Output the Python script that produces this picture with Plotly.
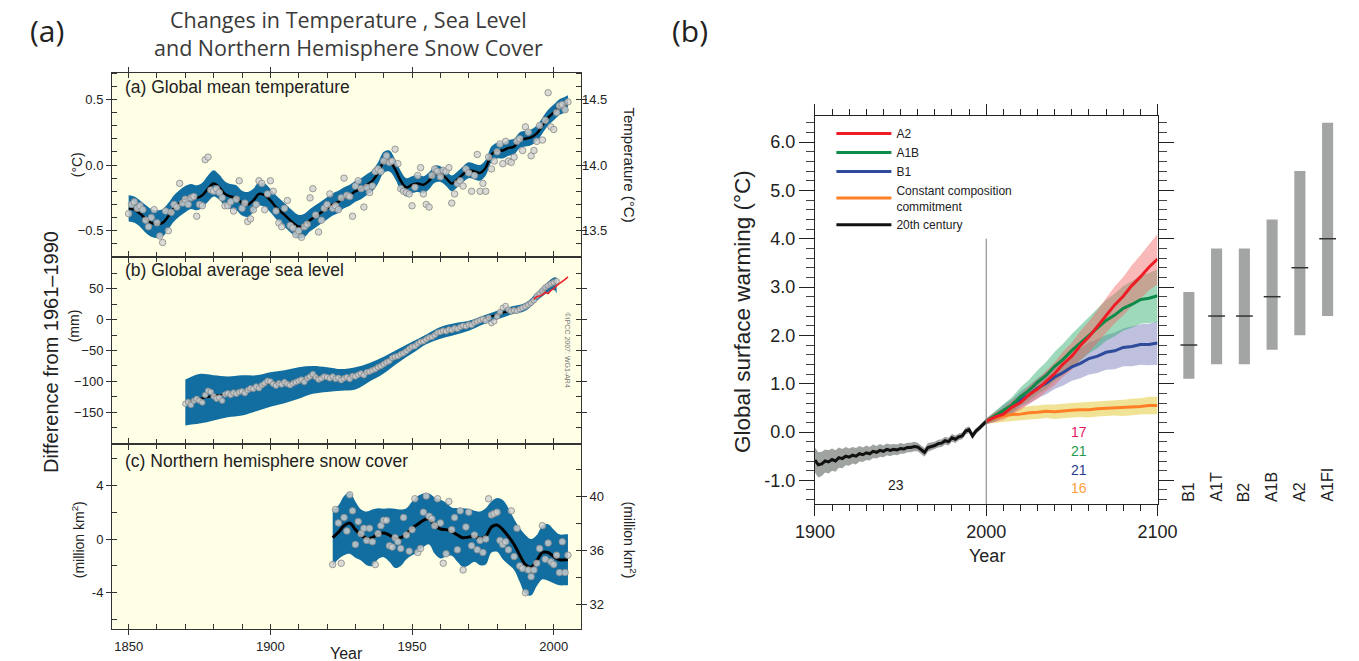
import plotly.graph_objects as go

# ---------------- data: left composite ----------------
temp_years = list(range(1850, 2006))
temp_annual = [
    -0.37, -0.30, -0.28, -0.33, -0.31, -0.34, -0.42, -0.47, -0.40, -0.34,
    -0.44, -0.54, -0.59, -0.35, -0.50, -0.36, -0.30, -0.32, -0.14, -0.29,
    -0.26, -0.30, -0.25, -0.24, -0.39, -0.30, -0.31, 0.04, 0.06, -0.19,
    -0.20, -0.18, -0.21, -0.25, -0.31, -0.31, -0.28, -0.35, -0.26, -0.12,
    -0.33, -0.29, -0.43, -0.41, -0.34, -0.30, -0.12, -0.14, -0.34, -0.22,
    -0.12, -0.20, -0.35, -0.44, -0.47, -0.33, -0.27, -0.46, -0.48, -0.53,
    -0.50, -0.55, -0.47, -0.45, -0.25, -0.18, -0.38, -0.51, -0.42, -0.33,
    -0.30, -0.22, -0.33, -0.31, -0.34, -0.25, -0.10, -0.23, -0.24, -0.39,
    -0.16, -0.12, -0.18, -0.32, -0.17, -0.21, -0.16, -0.05, -0.03, -0.05,
    0.03, 0.07, 0.02, 0.03, 0.12, 0.01, -0.18, -0.20, -0.21, -0.22,
    -0.31, -0.17, -0.08, -0.02, -0.22, -0.30, -0.32, -0.08, -0.03, -0.05,
    -0.09, -0.04, -0.05, -0.02, -0.29, -0.22, -0.14, -0.12, -0.16, -0.03,
    -0.06, -0.20, -0.08, 0.08, -0.20, -0.14, -0.20, 0.06, -0.03, 0.03,
    0.10, 0.16, 0.01, 0.18, 0.03, 0.02, 0.06, 0.18, 0.20, 0.11,
    0.29, 0.25, 0.07, 0.11, 0.18, 0.30, 0.19, 0.34, 0.55, 0.29,
    0.27, 0.40, 0.45, 0.46, 0.42, 0.48]
temp_abs_offset = 14.0  # right-hand axis: absolute temperature

temp_smooth_years = [
    1850, 1852, 1854, 1856, 1858, 1860, 1862, 1864, 1866, 1868,
    1870, 1872, 1874, 1876, 1878, 1880, 1882, 1884, 1886, 1888,
    1890, 1892, 1894, 1896, 1898, 1900, 1902, 1904, 1906, 1908,
    1910, 1912, 1914, 1916, 1918, 1920, 1922, 1924, 1926, 1928,
    1930, 1932, 1934, 1936, 1938, 1940, 1942, 1944, 1946, 1948,
    1950, 1952, 1954, 1956, 1958, 1960, 1962, 1964, 1966, 1968,
    1970, 1972, 1974, 1976, 1978, 1980, 1982, 1984, 1986, 1988,
    1990, 1992, 1994, 1996, 1998, 2000, 2002, 2004, 2005]
temp_smooth = [
    -0.33, -0.34, -0.37, -0.41, -0.44, -0.45, -0.44, -0.39, -0.33, -0.29,
    -0.26, -0.24, -0.25, -0.23, -0.18, -0.14, -0.17, -0.22, -0.24, -0.25,
    -0.29, -0.30, -0.27, -0.22, -0.23, -0.27, -0.32, -0.36, -0.40, -0.44,
    -0.47, -0.46, -0.42, -0.39, -0.36, -0.33, -0.30, -0.28, -0.25, -0.23,
    -0.20, -0.18, -0.15, -0.12, -0.06, 0.02, 0.03, -0.03, -0.12, -0.17,
    -0.15, -0.14, -0.15, -0.12, -0.07, -0.07, -0.10, -0.14, -0.11, -0.07,
    -0.04, -0.05, -0.06, -0.02, 0.08, 0.11, 0.11, 0.13, 0.14, 0.19,
    0.20, 0.21, 0.24, 0.30, 0.36, 0.40, 0.44, 0.46, 0.47]
temp_hw = [
    0.10, 0.10, 0.10, 0.105, 0.105, 0.105, 0.105, 0.10, 0.10, 0.10,
    0.10, 0.095, 0.095, 0.095, 0.10, 0.10, 0.095, 0.095, 0.095, 0.095,
    0.095, 0.095, 0.09, 0.09, 0.09, 0.09, 0.09, 0.09, 0.09, 0.09,
    0.09, 0.09, 0.085, 0.085, 0.085, 0.085, 0.085, 0.085, 0.08, 0.08,
    0.08, 0.08, 0.08, 0.08, 0.08, 0.08, 0.08, 0.075, 0.075, 0.07,
    0.065, 0.065, 0.065, 0.065, 0.065, 0.06, 0.06, 0.06, 0.06, 0.06,
    0.06, 0.06, 0.06, 0.06, 0.06, 0.06, 0.06, 0.06, 0.06, 0.06,
    0.06, 0.06, 0.06, 0.06, 0.06, 0.06, 0.06, 0.06, 0.06]

sea_years = list(range(1870, 2002))
sea_annual = [
    -136, -133, -138, -131, -128, -131, -134, -122, -115, -117,
    -124, -128, -126, -131, -121, -119, -122, -118, -120, -117,
    -116, -119, -114, -111, -112, -108, -111, -106, -103, -99,
    -100, -104, -107, -103, -105, -101, -104, -106, -103, -101,
    -99, -97, -101, -95, -92, -88, -93, -97, -95, -92,
    -93, -95, -92, -96, -94, -98, -95, -93, -96, -91,
    -92, -89, -87, -90, -85, -84, -82, -80, -77, -75,
    -72, -69, -67, -62, -60, -59, -56, -54, -51, -47,
    -44, -43, -39, -36, -35, -32, -29, -28, -25, -21,
    -20, -18, -19, -16, -17, -14, -15, -12, -10, -11,
    -8, -9, -5, -3, -1, 1, -2, 3, -6, -3,
    5, 12, 19, 22, 16, 13, 15, 14, 17, 19,
    21, 24, 27, 31, 38, 42, 47, 52, 55, 58,
    60, 62]
sea_smooth_years = [1870, 1875, 1880, 1885, 1890, 1895, 1900, 1905, 1910, 1915,
                    1920, 1925, 1930, 1935, 1940, 1945, 1950, 1955, 1960, 1965,
                    1970, 1975, 1980, 1985, 1990, 1995, 2000, 2001]
sea_smooth = [-134, -128, -123, -121, -117, -110, -102, -103, -100, -92,
              -94, -95, -90, -83, -71, -58, -44, -31, -20, -15,
              -8, 0, 8, 15, 21, 42, 60, 62]
sea_upper = [-97, -88, -90, -92, -90, -90, -85, -82, -77, -75,
             -77, -80, -77, -70, -60, -48, -36, -24, -12, -6,
             -2, 6, 14, 21, 27, 48, 68, 68]
sea_lower = [-171, -168, -163, -158, -155, -148, -141, -135, -128, -120,
             -117, -115, -113, -100, -87, -70, -55, -40, -31, -25,
             -18, -8, 0, 8, 14, 34, 48, 42]
sat_years = [1993, 1994, 1995, 1996, 1997, 1998, 1999, 2000, 2001, 2002, 2003, 2004, 2005]
sat_sea = [33, 37, 38, 40, 44, 42, 47, 50, 55, 58, 62, 65, 69]

snow_years = list(range(1922, 2006))
snow_annual = [
    -1.9, 2.2, 1.2, -1.8, 1.6, 0.6, 3.3, 2.1,
    -0.4, 1.3, 0.4, 0.8, -0.1, 0.8, -0.2, -1.9, 0.4, 1.0,
    1.4, 1.4, -0.5, -0.6, 0.1, -0.2, -0.7, 1.6, 0.3, -0.9,
    0.7, 3.0, -1.0, -0.7, 2.0, 3.2, 1.7, 1.5, 1.0, 3.0,
    1.2, -1.8, -1.1, 2.8, 0.7, 1.6, -0.8, 2.1, -2.3, 0.9,
    2.0, -0.5, 0.3, -0.8, -0.1, -1.0, 0.0, 3.0, 1.8, 1.9,
    2.0, -0.1, -0.4, -0.2, -0.8, 2.1, -1.3, 0.8, -2.0, -2.2,
    -4.0, -2.3, -2.8, -2.3, -1.8, -0.7, 1.0, -1.5, -0.3, -1.7,
    -1.9, -1.2, -2.5, -0.2, -2.5, -1.2]
snow_abs_offset = 36.85  # right-hand axis: absolute snow cover
snow_smooth_years = [1922, 1924, 1926, 1928, 1930, 1932, 1934, 1936, 1938, 1940,
                     1942, 1944, 1946, 1948, 1950, 1952, 1954, 1956, 1958, 1960,
                     1962, 1964, 1966, 1968, 1970, 1972, 1974, 1976, 1978, 1980,
                     1982, 1984, 1986, 1988, 1990, 1992, 1994, 1996, 1998, 2000,
                     2002, 2004, 2005]
snow_smooth = [0.1, 0.5, 1.0, 1.2, 0.7, 0.3, 0.05, 0.1, 0.4, 0.45,
               0.3, 0.05, 0.1, 0.4, 0.8, 1.1, 1.4, 1.5, 1.0, 0.75,
               0.7, 0.55, 0.3, 0.1, 0.15, 0.2, 0.05, 0.2, 0.9, 1.05,
               0.7, 0.2, -0.4, -1.2, -1.9, -2.1, -1.6, -1.0, -1.0, -1.3,
               -1.55, -1.55, -1.55]
snow_hw = [2.1, 2.0, 2.2, 2.3, 2.1, 1.9, 2.0, 2.1, 1.9, 1.8,
           2.0, 2.2, 2.1, 1.9, 2.0, 2.1, 2.0, 1.9, 2.1, 2.2,
           2.0, 1.8, 2.0, 2.2, 2.1, 1.9, 2.0, 2.1, 1.9, 2.0,
           2.2, 2.1, 1.9, 2.0, 2.2, 2.1, 1.9, 2.0, 2.1, 2.0,
           1.9, 1.9, 1.9]

# ---------------- data: right panel ----------------
c20_years = list(range(1900, 2001, 2))
c20 = [-0.58, -0.68, -0.66, -0.60, -0.62, -0.57, -0.60, -0.53, -0.55, -0.50,
       -0.52, -0.48, -0.50, -0.45, -0.47, -0.43, -0.45, -0.40, -0.42, -0.38,
       -0.40, -0.36, -0.38, -0.36, -0.37, -0.34, -0.35, -0.32, -0.32, -0.30,
       -0.31, -0.36, -0.42, -0.32, -0.30, -0.28, -0.24, -0.23, -0.18, -0.20,
       -0.12, -0.15, -0.10, -0.08, 0.02, 0.05, -0.08, 0.02, 0.08, 0.15,
       0.22]
c20_hw = [0.26, 0.26, 0.25, 0.24, 0.24, 0.23, 0.22, 0.21, 0.20, 0.19,
          0.18, 0.17, 0.17, 0.16, 0.15, 0.15, 0.14, 0.14, 0.13, 0.13,
          0.12, 0.12, 0.12, 0.11, 0.11, 0.11, 0.10, 0.10, 0.10, 0.10,
          0.09, 0.09, 0.09, 0.09, 0.08, 0.08, 0.08, 0.08, 0.08, 0.08,
          0.08, 0.08, 0.07, 0.07, 0.07, 0.07, 0.07, 0.06, 0.06, 0.06,
          0.06]
proj_years = list(range(2000, 2101, 5))
a2 = [0.22, 0.31, 0.37, 0.51, 0.61, 0.77, 0.89, 1.06, 1.21, 1.41, 1.57,
      1.79, 1.97, 2.19, 2.41, 2.63, 2.81, 3.03, 3.21, 3.41, 3.58]
a2_hw = [0.06, 0.10, 0.12, 0.14, 0.16, 0.18, 0.20, 0.22, 0.24, 0.26, 0.28,
         0.30, 0.32, 0.34, 0.36, 0.38, 0.40, 0.42, 0.45, 0.48, 0.52]
a1b = [0.22, 0.33, 0.45, 0.56, 0.73, 0.86, 1.03, 1.17, 1.36, 1.51, 1.69,
       1.84, 2.01, 2.14, 2.31, 2.42, 2.56, 2.64, 2.74, 2.77, 2.82]
a1b_hw = [0.06, 0.10, 0.13, 0.16, 0.19, 0.22, 0.25, 0.28, 0.30, 0.32, 0.34,
          0.36, 0.38, 0.40, 0.42, 0.44, 0.46, 0.48, 0.50, 0.52, 0.55]
b1 = [0.22, 0.31, 0.43, 0.53, 0.67, 0.77, 0.91, 1.01, 1.14, 1.23, 1.35,
      1.42, 1.52, 1.57, 1.65, 1.68, 1.75, 1.77, 1.81, 1.81, 1.84]
b1_hw = [0.06, 0.10, 0.13, 0.15, 0.17, 0.19, 0.21, 0.23, 0.25, 0.27, 0.29,
         0.31, 0.33, 0.35, 0.36, 0.38, 0.39, 0.41, 0.42, 0.43, 0.45]
cc = [0.22, 0.29, 0.33, 0.36, 0.37, 0.40, 0.41, 0.43, 0.42, 0.44, 0.45,
      0.46, 0.46, 0.48, 0.49, 0.50, 0.50, 0.52, 0.53, 0.55, 0.55]
cc_hw = [0.05, 0.10, 0.12, 0.13, 0.13, 0.14, 0.14, 0.14, 0.15, 0.15, 0.15,
         0.15, 0.16, 0.16, 0.16, 0.16, 0.17, 0.17, 0.17, 0.18, 0.18]

scenarios = ["B1", "A1T", "B2", "A1B", "A2", "A1FI"]
sc_low = [1.1, 1.4, 1.4, 1.7, 2.0, 2.4]
sc_high = [2.9, 3.8, 3.8, 4.4, 5.4, 6.4]
sc_best = [1.8, 2.4, 2.4, 2.8, 3.4, 4.0]

model_counts = ["17", "21", "21", "16"]
count_colors = ["#e8175d", "#1f9a4a", "#2b3c8f", "#ffa040"]
count_y = [0.0, -0.4, -0.79, -1.16]

divider_year = 2000
divider_top = 4.0

# ---------------- styling ----------------
FONT = "Liberation Sans, Arial, sans-serif"
TITLE_FONT = "Open Sans, sans-serif"
BLUE = "#126ea0"
CREAM = "#FFFFE6"
PT_FILL = "rgba(210,210,210,0.8)"
PT_LINE = "rgba(140,140,140,0.85)"

fig = go.Figure()


def band(x, lo, hi, color, xa, ya, shape="spline"):
    fig.add_trace(go.Scatter(x=x, y=hi, mode="lines", line=dict(width=0, shape=shape),
                             showlegend=False, hoverinfo="skip", xaxis=xa, yaxis=ya))
    fig.add_trace(go.Scatter(x=x, y=lo, mode="lines", line=dict(width=0, shape=shape),
                             fill="tonexty", fillcolor=color, showlegend=False,
                             hoverinfo="skip", xaxis=xa, yaxis=ya))


# panel (a)
band(temp_smooth_years, [v - h for v, h in zip(temp_smooth, temp_hw)],
     [v + h for v, h in zip(temp_smooth, temp_hw)], BLUE, "x", "y")
fig.add_trace(go.Scatter(x=temp_smooth_years, y=temp_smooth, mode="lines",
                         line=dict(color="black", width=2.5, shape="spline"),
                         showlegend=False, xaxis="x", yaxis="y"))
fig.add_trace(go.Scatter(x=temp_years, y=temp_annual, mode="markers",
                         marker=dict(size=6.5, color=PT_FILL, line=dict(color=PT_LINE, width=1)),
                         showlegend=False, xaxis="x", yaxis="y"))
# same series in absolute units on the right-hand axis (invisible, carries the axis)
fig.add_trace(go.Scatter(x=temp_years, y=[v + temp_abs_offset for v in temp_annual],
                         mode="markers", marker=dict(size=1, opacity=0), hoverinfo="skip",
                         showlegend=False, xaxis="x", yaxis="y2"))

# panel (b)
band(sea_smooth_years, sea_lower, sea_upper, BLUE, "x2", "y3")
fig.add_trace(go.Scatter(x=sea_smooth_years, y=sea_smooth, mode="lines",
                         line=dict(color="black", width=2, shape="spline"),
                         showlegend=False, xaxis="x2", yaxis="y3"))
fig.add_trace(go.Scatter(x=sea_years, y=sea_annual, mode="markers",
                         marker=dict(size=5.5, color=PT_FILL, line=dict(color=PT_LINE, width=1)),
                         showlegend=False, xaxis="x2", yaxis="y3"))
fig.add_trace(go.Scatter(x=sat_years, y=sat_sea, mode="lines",
                         line=dict(color="#e8262a", width=1.6),
                         showlegend=False, xaxis="x2", yaxis="y3"))

# panel (c)
band(snow_smooth_years, [v - h for v, h in zip(snow_smooth, snow_hw)],
     [v + h for v, h in zip(snow_smooth, snow_hw)], BLUE, "x3", "y5")
fig.add_trace(go.Scatter(x=snow_smooth_years, y=snow_smooth, mode="lines",
                         line=dict(color="black", width=3, shape="spline"),
                         showlegend=False, xaxis="x3", yaxis="y5"))
fig.add_trace(go.Scatter(x=snow_years, y=snow_annual, mode="markers",
                         marker=dict(size=6.5, color=PT_FILL, line=dict(color=PT_LINE, width=1)),
                         showlegend=False, xaxis="x3", yaxis="y5"))
fig.add_trace(go.Scatter(x=snow_years, y=[v + snow_abs_offset for v in snow_annual],
                         mode="markers", marker=dict(size=1, opacity=0), hoverinfo="skip",
                         showlegend=False, xaxis="x3", yaxis="y6"))

# right panel bands
band(c20_years, [v - h for v, h in zip(c20, c20_hw)], [v + h for v, h in zip(c20, c20_hw)],
     "rgba(120,125,120,0.7)", "x4", "y7", shape="linear")
band(proj_years, [v - h for v, h in zip(cc, cc_hw)], [v + h for v, h in zip(cc, cc_hw)],
     "rgba(232,208,80,0.6)", "x4", "y7", shape="linear")
band(proj_years, [v - h for v, h in zip(b1, b1_hw)], [v + h for v, h in zip(b1, b1_hw)],
     "rgba(125,130,190,0.5)", "x4", "y7", shape="linear")
band(proj_years, [v - h for v, h in zip(a1b, a1b_hw)], [v + h for v, h in zip(a1b, a1b_hw)],
     "rgba(40,170,105,0.45)", "x4", "y7", shape="linear")
band(proj_years, [v - h for v, h in zip(a2, a2_hw)], [v + h for v, h in zip(a2, a2_hw)],
     "rgba(245,100,100,0.45)", "x4", "y7", shape="linear")

# right panel lines
line_specs = [
    ("20th century", c20_years, c20, "#111111", 5),
    ("Constant composition<br>commitment", proj_years, cc, "#ff7f27", 4),
    ("B1", proj_years, b1, "#2e4a9a", 3),
    ("A1B", proj_years, a1b, "#0e8a4a", 2),
    ("A2", proj_years, a2, "#ee1c25", 1),
]
for name, xs, ys, col, rank in line_specs:
    fig.add_trace(go.Scatter(x=xs, y=ys, mode="lines", name=name, legendrank=rank,
                             line=dict(color=col, width=3),
                             xaxis="x4", yaxis="y7"))

# scenario bars
fig.add_trace(go.Bar(x=scenarios, y=[h - l for h, l in zip(sc_high, sc_low)], base=sc_low,
                     width=0.4, marker=dict(color="#a2a5a4", line=dict(width=0)),
                     showlegend=False, xaxis="x5", yaxis="y7"))
fig.add_trace(go.Scatter(x=scenarios, y=sc_best, mode="markers",
                         marker=dict(symbol="line-ew", size=12,
                                     line=dict(color="#333333", width=1.5)),
                         showlegend=False, xaxis="x5", yaxis="y7"))

fig.add_shape(type="line", xref="x4", yref="y7", x0=divider_year, x1=divider_year,
              y0=-1.49, y1=divider_top, line=dict(color="#777777", width=1))

# cream backgrounds for the three left panels
for xa, ya in [("x", "y"), ("x2", "y3"), ("x3", "y5")]:
    fig.add_shape(type="rect", xref=xa + " domain", yref=ya + " domain",
                  x0=0, x1=1, y0=0, y1=1, fillcolor=CREAM, line=dict(width=0), layer="below")

# ---------------- axes ----------------
LX = [95 / 1359, 578 / 1359]


def py(p):
    return 1 - p / 661


AX_LINE = dict(showline=True, linecolor="#333333", linewidth=1.4, showgrid=False,
               zeroline=False, tickcolor="#333333")
TF = dict(family=FONT, size=13, color="#222222")


def left_x(anchor, labels):
    return dict(domain=LX, anchor=anchor, range=[1844.2, 2009.6],
                tickvals=[1850, 1900, 1950, 2000], ticks="outside", ticklen=5,
                minor=dict(tick0=1850, dtick=10, ticks="inside", ticklen=5, tickcolor="#333333"),
                mirror="ticks", showticklabels=labels, tickfont=TF, **AX_LINE)


layout = dict(
    width=1359, height=661, margin=dict(l=0, r=0, t=0, b=0),
    paper_bgcolor="white", plot_bgcolor="white",
    font=dict(family=FONT, color="#222222"),
    barmode="overlay",
    xaxis=left_x("y", False),
    xaxis2=dict(left_x("y3", False), matches="x"),
    xaxis3=dict(left_x("y5", True), matches="x"),
    yaxis=dict(domain=[py(257), py(73)], anchor="x", range=[-0.7, 0.7],
               tickvals=[-0.5, 0, 0.5], ticktext=["\u22120.5", "0.0", "0.5"],
               ticks="outside", ticklen=5,
               minor=dict(tick0=0, dtick=0.1, ticks="inside", ticklen=5, tickcolor="#333333"),
               mirror="ticks", tickfont=TF, **AX_LINE),
    yaxis2=dict(overlaying="y", side="right", anchor="x", range=[13.3, 14.7],
                tickvals=[13.5, 14.0, 14.5], ticktext=["13.5", "14.0", "14.5"],
                ticks="", showline=False, showgrid=False, zeroline=False, tickfont=TF),
    yaxis3=dict(domain=[py(444), py(257)], anchor="x2", range=[-201, 101],
                tickvals=[-150, -100, -50, 0, 50],
                ticktext=["\u2212150", "\u2212100", "\u221250", "0", "50"],
                ticks="outside", ticklen=5,
                minor=dict(tick0=0, dtick=25, ticks="inside", ticklen=5, tickcolor="#333333"),
                mirror="ticks", tickfont=TF, **AX_LINE),
    yaxis5=dict(domain=[py(629), py(444)], anchor="x3", range=[-6.7, 7.08],
                tickvals=[-4, 0, 4], ticktext=["-4", "0", "4"],
                ticks="outside", ticklen=5,
                minor=dict(tick0=0, dtick=2, ticks="inside", ticklen=5, tickcolor="#333333"),
                mirror=True, tickfont=TF, **AX_LINE),
    yaxis6=dict(overlaying="y5", side="right", anchor="x3", range=[30.15, 43.93],
                tickvals=[32, 36, 40], ticktext=["32", "36", "40"],
                ticks="outside", ticklen=5, tickcolor="#333333",
                minor=dict(tick0=0, dtick=2, ticks="inside", ticklen=5, tickcolor="#333333"),
                showline=False, showgrid=False, zeroline=False, tickfont=TF),
    xaxis4=dict(domain=[819 / 1359, 1172 / 1359], anchor="y7", range=[1900, 2100],
                tickvals=[1900, 2000, 2100], ticks="outside", ticklen=11,
                minor=dict(tick0=1900, dtick=10, ticks="outside", ticklen=6, tickcolor="#222222"),
                mirror="ticks", tickfont=dict(family=FONT, size=18, color="#222222"),
                showline=True, linecolor="#222222", linewidth=1.2, tickcolor="#222222",
                showgrid=False, zeroline=False),
    yaxis7=dict(domain=[py(504), py(116)], anchor="x4", range=[-1.49, 6.54],
                tickvals=[-1, 0, 1, 2, 3, 4, 5, 6],
                ticktext=["-1.0", "0.0", "1.0", "2.0", "3.0", "4.0", "5.0", "6.0"],
                ticks="outside", ticklen=15,
                minor=dict(tick0=0, dtick=0.2, ticks="outside", ticklen=8, tickcolor="#444444"),
                mirror="ticks", tickfont=dict(family=FONT, size=18, color="#222222"),
                showline=True, linecolor="#222222", linewidth=1.2, tickcolor="#222222",
                showgrid=False, zeroline=False),
    xaxis5=dict(domain=[1190 / 1359, 1.0], anchor="y7", range=[-0.5, 5.41],
                visible=False, type="category"),
    legend=dict(x=836 / 1359, y=py(119), xanchor="left", yanchor="top",
                bgcolor="rgba(0,0,0,0)", font=dict(family=FONT, size=12, color="#222222"),
                itemwidth=55, tracegroupgap=0, traceorder="normal"),
)
fig.update_layout(**layout)


def ann(text, x, y, size, angle=0, color="#222222", xanchor="center", family=FONT, **kw):
    fig.add_annotation(text=text, x=x / 1359, y=py(y), xref="paper", yref="paper",
                       showarrow=False, textangle=angle, xanchor=xanchor, yanchor="middle",
                       font=dict(family=family, size=size, color=color), **kw)


ann("(a)", 28, 30, 30, family=TITLE_FONT)
ann("(b)", 690, 30, 30, family=TITLE_FONT)
ann("Changes in Temperature , Sea Level", 338, 20, 21.5, color="#3a3a3a", family=TITLE_FONT)
ann("and Northern Hemisphere Snow Cover", 338, 47, 21.5, color="#3a3a3a", family=TITLE_FONT)
ann("(a) Global mean temperature", 106, 87, 17.5, xanchor="left")
ann("(b) Global average sea level", 106, 270, 17.5, xanchor="left")
ann("(c) Northern hemisphere snow cover", 106, 461, 17.5, xanchor="left")
ann("(\u00b0C)", 59, 165, 14, angle=-90)
ann("Difference from 1961\u20131990", 32, 352, 20, angle=-90)
ann("(mm)", 56, 326, 14, angle=-90)
ann("(million km<sup>2</sup>)", 60, 540, 14, angle=-90)
ann("Temperature (\u00b0C)", 628, 165, 15, angle=90)
ann("(million km<sup>2</sup>)", 628, 540, 14, angle=90)
ann("\u00a9IPCC 2007: WG1-AR4", 564, 350, 7, angle=90, color="#777777")
ann("Year", 336, 653, 16)
ann("Global surface warming (\u00b0C)", 745, 312, 22.5, angle=-90)
ann("Year", 996, 556, 18)

fig.add_annotation(text="23", x=1947.5, y=-1.1, xref="x4", yref="y7", showarrow=False,
                   font=dict(family=FONT, size=14, color="#222222"))
for txt, col, yy in zip(model_counts, count_colors, count_y):
    fig.add_annotation(text=txt, x=2054, y=yy, xref="x4", yref="y7", showarrow=False,
                       font=dict(family=FONT, size=14, color=col))
for sc in scenarios:
    fig.add_annotation(text=sc, x=sc, y=-1.49, xref="x5", yref="y7", showarrow=False,
                       textangle=-90, yanchor="bottom",
                       font=dict(family=FONT, size=16, color="#222222"))

fig.write_html("out.html")
